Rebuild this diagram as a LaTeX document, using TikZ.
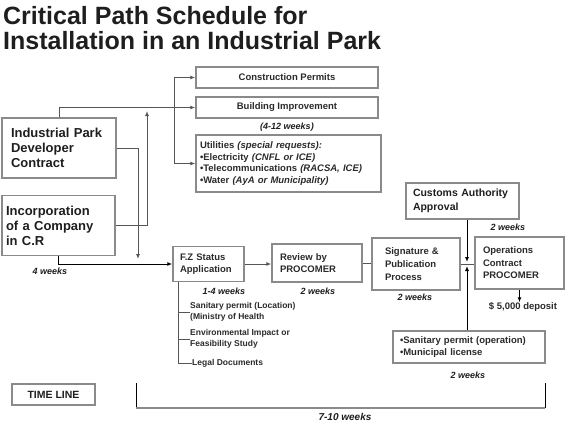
\documentclass[tikz,border=0pt]{standalone}
\usepackage{fontspec}
\setmainfont{Liberation Sans}
\usetikzlibrary{arrows.meta}
\definecolor{bx}{HTML}{8A8A8A}
\definecolor{ln}{HTML}{555555}
\definecolor{tx}{HTML}{1E1E1E}
\definecolor{mt}{HTML}{2A2A2A}
\tikzset{
  box/.style={draw=bx, line width=1.4pt, inner ysep=0pt, text=tx, align=left},
  arr/.style={draw=ln, line width=1pt, -{Latex[length=5pt,width=4pt]}},
  con/.style={draw=ln, line width=1pt},
  lbl/.style={inner sep=0pt, text=tx, font=\bfseries\itshape\fontsize{9}{11}\selectfont},
  med/.style={text=mt, font=\bfseries\fontsize{9.5}{12.5}\selectfont},
  big/.style={font=\bfseries\fontsize{13}{15}\selectfont},
  sub/.style={inner sep=0pt, anchor=west, align=left, text=mt, font=\bfseries\fontsize{8.5}{11.5}\selectfont},
  ttl/.style={anchor=base west, inner sep=0pt, text=tx, font=\bfseries\fontsize{25}{30}\selectfont}
}
\begin{document}
\begin{tikzpicture}[x=1pt,y=-1pt]
\useasboundingbox (0,0) rectangle (566,423);
% title
\node[ttl] (t1) at (3,24) {Critical Path Schedule for};
\node[ttl] (t2) at (3,49) {Installation in an Industrial Park};
% boxes
\node[box, med, align=center, minimum width=182, minimum height=21] (cp) at (287,77.5) {Construction Permits};
\node[box, med, align=center, minimum width=182, minimum height=21] (bi) at (287,107.5) {Building Improvement};
\node[lbl] (w412) at (287,127) {(4-12 weeks)};
\node[box, med, font=\bfseries\fontsize{9.5}{11.8}\selectfont, inner xsep=4pt, text width=177, minimum height=57] (ut) at (288.5,163.5)
  {Utilities \textit{(special requests):}\\
   •Electricity \textit{(CNFL or ICE)}\\
   •Telecommunications \textit{(RACSA, ICE)}\\
   •Water \textit{(AyA or Municipality)}\\[3pt]};
\node[box, big, inner xsep=9pt, text width=96, minimum height=60] (ipd) at (59,148)
  {Industrial Park\\Developer\\Contract};
\node[box, big, inner xsep=4pt, text width=105, minimum height=60] (inc) at (58.5,225.5)
  {Incorporation\\of a Company\\in C.R};
\node[lbl] (w4) at (50,271) {4 weeks};
\node[box, med, inner xsep=7pt, text width=57, minimum height=35] (fz) at (208.5,264)
  {F.Z Status\\Application};
\node[box, med, inner xsep=8pt, text width=74, minimum height=38] (rv) at (317,263)
  {Review by\\PROCOMER};
\node[lbl] (w14) at (224,291) {1-4 weeks};
\node[lbl] (w2a) at (318,291) {2 weeks};
\node[box, med, font=\bfseries\fontsize{9.5}{13}\selectfont, inner xsep=13pt, text width=62, minimum height=52] (sg) at (416,264)
  {Signature \&\\Publication\\Process};
\node[lbl] (w2b) at (415,297) {2 weeks};
\node[box, font=\bfseries\fontsize{10.5}{14}\selectfont, inner xsep=7pt, text width=99, minimum height=36] (ca) at (462.5,201)
  {Customs Authority\\Approval};
\node[lbl] (w2c) at (508,227) {2 weeks};
\node[box, med, inner xsep=8pt, text width=73, minimum height=52] (op) at (519.5,263)
  {Operations\\Contract\\PROCOMER};
\node[inner sep=0pt, med] (dep) at (523,307) {\$ 5,000 deposit};
\node[box, med, inner xsep=7pt, text width=138, minimum height=32] (so) at (469,347)
  {•Sanitary permit (operation)\\•Municipal license};
\node[lbl] (w2d) at (468,375) {2 weeks};
% sub items of F.Z
\node[sub] (s1) at (190,312) {Sanitary permit (Location)\\(Ministry of Health};
\node[sub] (s2) at (190,339) {Environmental Impact or\\Feasibility Study};
\node[sub] (s3) at (192,363) {Legal Documents};
% time line
\node[box, font=\bfseries\fontsize{10.5}{12}\selectfont, align=center, minimum width=83, minimum height=21] (tl) at (53.5,394.5) {TIME LINE};
\node[lbl, font=\bfseries\itshape\fontsize{10}{12}\selectfont] (w710) at (345,417) {7-10 weeks};
% coordinates
\coordinate (br) at (174,107.5);
\coordinate (d1) at (138,259);
\coordinate (u1) at (147,111);
\coordinate (j1) at (467,262);
\coordinate (j2) at (467,266);
\coordinate (fzb) at (178,281.5);
\coordinate (fzc) at (178,363);
\coordinate (bl) at (136,383);
\coordinate (blb) at (136,408);
\coordinate (brb) at (545,408);
\coordinate (brt) at (545,383);
% connectors
\draw[arr] (ipd.north) |- (bi.west);
\draw[arr] (br) |- (cp.west);
\draw[arr] (br) |- (ut.west);
\draw[arr] (ipd.east) -| (d1);
\draw[arr] (inc.east) -| (u1);
\draw[arr, draw=black] (inc.south) |- (fz.west);
\draw[arr] (fz.east) -- (fz.east -| rv.west);
\draw[con] (rv.east) -- (rv.east -| sg.west);
\draw[con] (sg.east) -- (sg.east -| op.west);
\draw[arr, draw=black] (ca.south -| j1) -- (j1);
\draw[arr, draw=black] (so.north -| j2) -- (j2);
\draw[arr, draw=black] (op.south) -- (op.south |- dep.north);
\draw[con] (fzb) -- (fzc) -- (s3.west);
\draw[con] (fzb |- s1.west) -- (s1.west);
\draw[con] (fzb |- s2.west) -- (s2.west);
\draw[line width=1pt, black] (bl) -- (blb);
\draw[line width=1.4pt, bx] (blb) -- (brb);
\draw[line width=1pt, black] (brb) -- (brt);
\end{tikzpicture}
\end{document}
